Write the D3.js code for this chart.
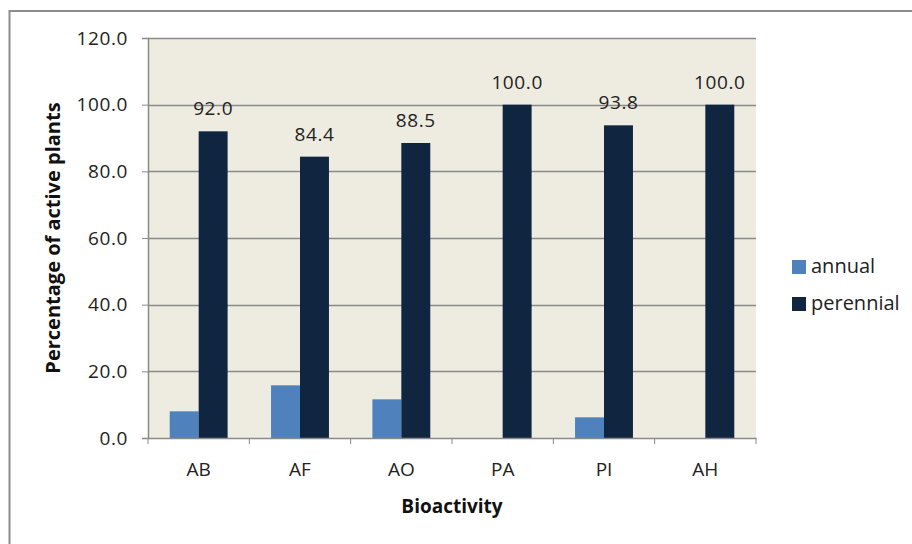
<!DOCTYPE html>
<html lang="en">
<head>
  <meta charset="UTF-8">
  <title>Percentage of active plants by bioactivity</title>
  <style>
    body {
      margin: 0;
      background-color: white;
      font-family: "Open Sans", sans-serif;
    }
    svg {
      display: block;
    }
  </style>
  <script src="https://d3js.org/d3.v7.min.js"></script>
</head>
<body>
  <div id="chart"></div>
  <script>
    // values
    const categories = ["AB", "AF", "AO", "PA", "PI", "AH"];
    const seriesNames = ["annual", "perennial"];
    const annual = [8.0, 15.8, 11.6, 0, 6.2, 0];
    const perennial = [92.0, 84.4, 88.5, 100.0, 93.8, 100.0];
    const yTicks = [0, 20, 40, 60, 80, 100, 120];

    const colors = { annual: "#4f81bd", perennial: "#10253f" };

    const width = 912, height = 544;
    const plot = { left: 148, right: 756, top: 38, bottom: 438 };

    const svg = d3.select("#chart")
      .append("svg")
      .attr("width", width)
      .attr("height", height);

    // outer chart border
    svg.append("rect")
      .attr("x", 9.5)
      .attr("y", 11)
      .attr("width", 920)
      .attr("height", 560)
      .attr("fill", "white")
      .attr("stroke", "#8c8c8c")
      .attr("stroke-width", 2);

    const xScale = d3.scaleBand()
      .domain(categories)
      .range([plot.left, plot.right]);

    // gap width 150%: two bars share 2 / 3.5 of the band
    const xInner = d3.scaleBand()
      .domain(seriesNames)
      .range([0, xScale.bandwidth() * 2 / 3.5]);
    const innerOffset = (xScale.bandwidth() - xInner.range()[1]) / 2;

    const yScale = d3.scaleLinear()
      .domain([0, 120])
      .range([plot.bottom, plot.top]);

    // plot area
    svg.append("rect")
      .attr("x", plot.left)
      .attr("y", plot.top)
      .attr("width", plot.right - plot.left)
      .attr("height", plot.bottom - plot.top)
      .attr("fill", "#eeece1");

    // gridlines
    svg.append("g")
      .selectAll("line")
      .data(yTicks.filter(d => d > 0))
      .join("line")
      .attr("x1", plot.left)
      .attr("x2", plot.right)
      .attr("y1", d => Math.round(yScale(d)) + 0.5)
      .attr("y2", d => Math.round(yScale(d)) + 0.5)
      .attr("stroke", "#8a8a8a")
      .attr("stroke-width", 1.3);

    const rows = categories.map((c, i) => ({ cat: c, annual: annual[i], perennial: perennial[i] }));

    const groups = svg.append("g")
      .selectAll("g")
      .data(rows)
      .join("g")
      .attr("transform", d => `translate(${xScale(d.cat) + innerOffset},0)`);

    groups.selectAll("rect")
      .data(d => seriesNames.map(s => ({ key: s, value: d[s] })))
      .join("rect")
      .attr("x", d => xInner(d.key))
      .attr("width", xInner.bandwidth())
      .attr("y", d => yScale(d.value))
      .attr("height", d => yScale(0) - yScale(d.value))
      .attr("fill", d => colors[d.key]);

    // data labels on perennial bars
    groups.append("text")
      .attr("x", xInner("perennial") + xInner.bandwidth() / 2)
      .attr("y", d => yScale(d.perennial) - 16)
      .attr("text-anchor", "middle")
      .attr("font-size", 19)
      .attr("letter-spacing", 0.6)
      .attr("fill", "#222")
      .text(d => d3.format(".1f")(d.perennial));

    // y axis
    const yAxis = svg.append("g")
      .attr("transform", `translate(${plot.left},0)`)
      .call(d3.axisLeft(yScale).tickValues(yTicks).tickFormat(d3.format(".1f")).tickSize(6).tickPadding(14));
    yAxis.selectAll("text")
      .attr("font-size", 19)
      .attr("letter-spacing", 0.6)
      .attr("font-family", "Open Sans")
      .attr("fill", "#222");

    // x axis, ticks on category boundaries
    const xAxis = svg.append("g")
      .attr("transform", `translate(0,${plot.bottom})`)
      .call(d3.axisBottom(xScale).tickSize(0).tickPadding(25));
    xAxis.selectAll("text")
      .attr("font-size", 19)
      .attr("font-family", "Open Sans")
      .attr("fill", "#222");
    xAxis.selectAll(".bound")
      .data(d3.range(categories.length + 1))
      .join("line")
      .attr("class", "bound")
      .attr("x1", i => i < categories.length ? xScale(categories[i]) : plot.right)
      .attr("x2", i => i < categories.length ? xScale(categories[i]) : plot.right)
      .attr("y1", 0)
      .attr("y2", 6)
      .attr("stroke", "#8a8a8a");

    svg.selectAll(".domain").attr("stroke", "#8a8a8a").attr("stroke-width", 1.5);
    svg.selectAll(".tick line").attr("stroke", "#8a8a8a");

    // axis titles
    svg.append("text")
      .attr("transform", `translate(60,${(plot.top + plot.bottom) / 2}) rotate(-90)`)
      .attr("text-anchor", "middle")
      .attr("font-size", 20)
      .attr("font-weight", "bold")
      .attr("fill", "#111")
      .text("Percentage of active plants");

    svg.append("text")
      .attr("x", (plot.left + plot.right) / 2)
      .attr("y", 513)
      .attr("text-anchor", "middle")
      .attr("font-size", 19)
      .attr("font-weight", "bold")
      .attr("fill", "#111")
      .text("Bioactivity");

    // legend
    const legend = svg.append("g")
      .attr("transform", "translate(792,0)");
    const legendY = { annual: 267, perennial: 304 };
    const entries = legend.selectAll("g")
      .data(seriesNames)
      .join("g")
      .attr("transform", d => `translate(0,${legendY[d]})`);
    entries.append("rect")
      .attr("x", 0)
      .attr("y", -7)
      .attr("width", 14)
      .attr("height", 14)
      .attr("fill", d => colors[d]);
    entries.append("text")
      .attr("x", 19)
      .attr("y", 6)
      .attr("font-size", 20)
      .attr("fill", "#222")
      .text(d => d);
  </script>
</body>
</html>
